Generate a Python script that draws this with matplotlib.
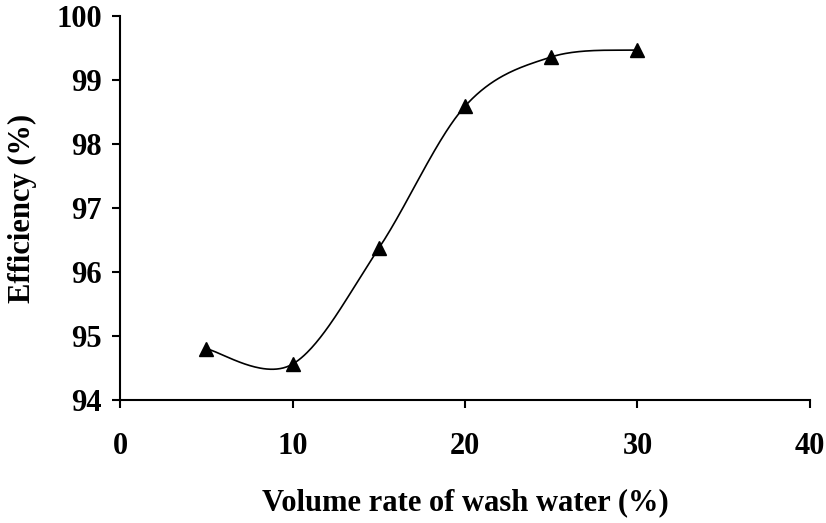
import numpy as np
import matplotlib
matplotlib.use("Agg")
import matplotlib.pyplot as plt

# data
wash_water = [5, 10, 15, 20, 25, 30]
efficiency = [94.80, 94.56, 96.37, 98.59, 99.36, 99.47]

x_ticks = [0, 10, 20, 30, 40]
y_ticks = [94, 95, 96, 97, 98, 99, 100]

plt.rcParams["font.family"] = ["Liberation Serif", "DejaVu Serif"]
plt.rcParams["font.weight"] = "bold"


def smooth_curve(xs, ys, n=60):
    # Excel-like smoothed line (Catmull-Rom as cubic Bezier)
    p = np.column_stack([xs, ys]).astype(float)
    pts = []
    for i in range(len(p) - 1):
        p0 = p[i - 1] if i > 0 else p[i]
        p1 = p[i]
        p2 = p[i + 1]
        p3 = p[i + 2] if i + 2 < len(p) else p[i + 1]
        c1 = p1 + (p2 - p0) / 6
        c2 = p2 - (p3 - p1) / 6
        t = np.linspace(0, 1, n)[:, None]
        seg = ((1 - t) ** 3) * p1 + 3 * ((1 - t) ** 2) * t * c1 + 3 * (1 - t) * t ** 2 * c2 + t ** 3 * p2
        pts.append(seg if i == 0 else seg[1:])
    pts = np.vstack(pts)
    return pts[:, 0], pts[:, 1]


fig = plt.figure(figsize=(8.26, 5.23), dpi=100)
ax = fig.add_axes([0.1453, 0.2352, 0.8353, 0.7342])

sx, sy = smooth_curve(wash_water, efficiency)
ax.plot(sx, sy, color="black", linewidth=1.2)
ax.plot(wash_water, efficiency, linestyle="none", marker="^", markersize=10, color="black")

ax.set_xlim(0, 40)
ax.set_ylim(94, 100)
ax.set_xticks(x_ticks)
ax.set_yticks(y_ticks)

for s in ["top", "right"]:
    ax.spines[s].set_visible(False)
for s in ["left", "bottom"]:
    ax.spines[s].set_linewidth(1.5)

ax.tick_params(axis="both", direction="out", length=6, width=1.5, labelsize=22)
ax.tick_params(axis="x", pad=17)
ax.tick_params(axis="y", pad=7)

ax.set_xlabel("Volume rate of wash water (%)", fontsize=22, fontweight="bold", labelpad=20)
ax.set_ylabel("Efficiency (%)", fontsize=22, fontweight="bold", labelpad=14)

fig.savefig("out.png", dpi=100)
